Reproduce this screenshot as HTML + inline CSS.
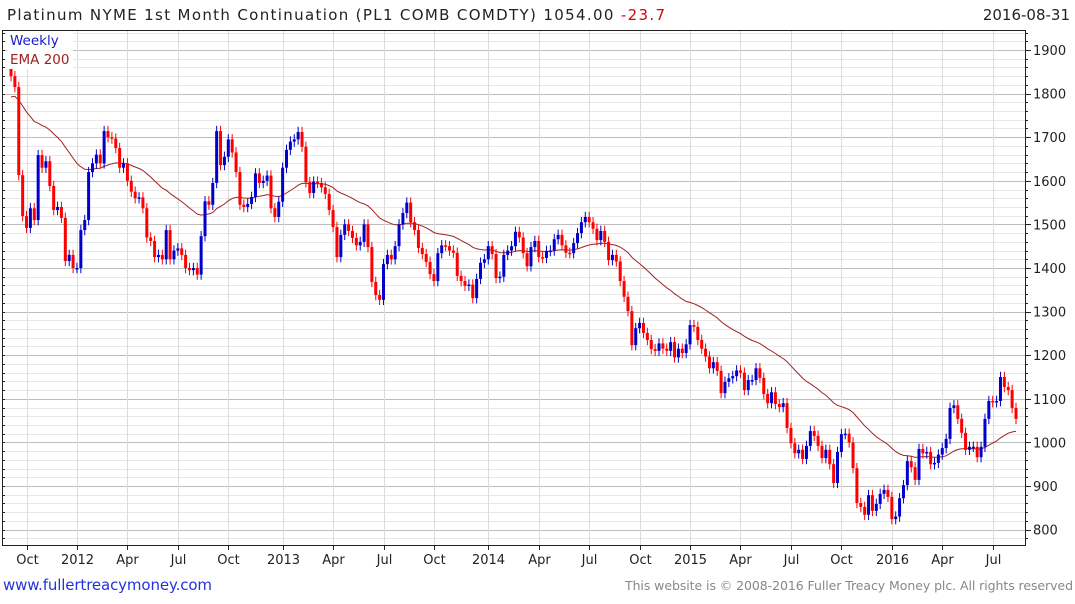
<!DOCTYPE html>
<html><head><meta charset="utf-8"><style>
body{margin:0;background:#fff;width:1075px;height:600px;overflow:hidden;font-family:"DejaVu Sans",sans-serif}
</style></head><body>
<svg id="chart" width="1075" height="600" xmlns="http://www.w3.org/2000/svg" font-family="DejaVu Sans, Liberation Sans, sans-serif">
<text x="7" y="20" font-size="15" fill="#222" textLength="658" lengthAdjust="spacing">Platinum NYME 1st Month Continuation (PL1 COMB COMDTY) 1054.00 <tspan fill="#e00000">-23.7</tspan></text>
<text x="1070" y="20" font-size="15" fill="#222" text-anchor="end">2016-08-31</text>
<g id="grid"></g><g id="ema"></g><g id="bars"></g><g id="axes"></g>
<rect x="7" y="31" width="66" height="38" fill="#fff"/>
<text x="10" y="45" font-size="13.5" fill="#1a1acc">Weekly</text>
<text x="10" y="64" font-size="13.5" fill="#a02020">EMA 200</text>
<text x="3" y="590" font-size="15" fill="#2233dd" textLength="209">www.fullertreacymoney.com</text>
<text x="1073" y="590" font-size="12.5" fill="#888" text-anchor="end" textLength="448">This website is © 2008-2016 Fuller Treacy Money plc. All rights reserved</text>
</svg>
<script>
const closes=[1840,1815,1613,1519,1492,1537,1510,1659,1630,1645,1588,1533,1540,1515,1416,1430,1400,1400,1487,1510,1620,1640,1660,1640,1714,1700,1697,1675,1630,1640,1600,1575,1560,1562,1537,1470,1462,1425,1430,1420,1487,1420,1440,1445,1430,1400,1395,1400,1385,1473,1553,1545,1595,1714,1636,1655,1695,1665,1620,1545,1540,1547,1563,1617,1595,
1600,1612,1537,1517,1552,1630,1671,1690,1695,1712,1678,1597,1572,1598,1595,1585,1570,1533,1494,1425,1476,1500,1485,1469,1452,1460,1500,1448,1368,1338,1327,1409,1430,1420,1450,1500,1526,1550,1505,1487,1446,1432,1414,1386,1370,1434,1452,1450,1440,1435,1382,1370,1359,1362,1331,1375,1412,1420,1450,1432,1377,1380,1430,1440,1450,
1483,1470,1434,1404,1448,1462,1425,1423,1439,1440,1466,1476,1452,1435,1434,1457,1480,1505,1517,1505,1490,1464,1485,1460,1418,1430,1415,1370,1334,1301,1223,1262,1274,1251,1235,1214,1210,1227,1215,1210,1230,1195,1215,1205,1225,1269,1265,1235,1215,1197,1170,1184,1164,1113,1139,1147,1152,1165,1160,1120,1143,1143,1170,1148,
1111,1090,1115,1088,1081,1090,1033,998,975,983,962,992,1026,1015,992,964,983,950,907,978,1019,1020,1000,941,861,852,834,879,843,859,882,891,875,824,830,872,902,957,943,914,985,975,978,950,953,972,987,1008,1079,1085,1054,1022,983,990,990,966,990,1054,1095,1092,1095,1150,1127,1120,1079,1054];
const firstOpen=1858;
const emaSeed=1790;
const yTicks=[800,900,1000,1100,1200,1300,1400,1500,1600,1700,1800,1900];
const xTickLabels=["Oct","2012","Apr","Jul","Oct","2013","Apr","Jul","Oct","2014","Apr","Jul","Oct","2015","Apr","Jul","Oct","2016","Apr","Jul"];
const xTickWeeks=[4,17,30,43,56,70,83,96,109,123,136,149,162,175,188,201,214,227,240,253];
const NS="http://www.w3.org/2000/svg";
const L=2,R=1025,T=30,B=545;
const x=i=>11+i*(1016-11)/(closes.length-1);
const y=v=>50+(1900-v)*0.436;
function mk(tag,attrs,parent){const e=document.createElementNS(NS,tag);for(const k in attrs)e.setAttribute(k,attrs[k]);parent.appendChild(e);return e;}
const grid=document.getElementById('grid'),axes=document.getElementById('axes'),bars=document.getElementById('bars'),emaG=document.getElementById('ema');
for(let v=780;v<=1940;v+=20){const yy=Math.round(y(v))+0.5;if(yy<T||yy>B)continue;const major=v%100===0;
 const ln=mk('line',{x1:L,x2:R,y1:yy,y2:yy,stroke:major?'#bdbdbd':'#e8e8e8','stroke-width':1},grid);
 
 
 const tk=mk('line',{x1:R,x2:R+(major?6:3),y1:yy,y2:yy,stroke:'#222'},axes);
 
 
 const tl=mk('line',{x1:L,x2:L+3,y1:yy,y2:yy,stroke:'#222'},axes);
 
 }
yTicks.forEach(v=>{const t=mk('text',{x:1033,y:y(v)+5,'font-size':13,fill:'#222'},axes);t.textContent=v;
 
 });
xTickWeeks.forEach((w,k)=>{const xx=Math.round(x(w))+0.5;
 const ln=mk('line',{x1:xx,x2:xx,y1:T,y2:B,stroke:'#dcdcdc'},grid);
 
 
 const tk=mk('line',{x1:xx,x2:xx,y1:B,y2:B+5,stroke:'#222'},axes);
 
 
 const t=mk('text',{x:xx,y:564,'font-size':13,fill:'#222','text-anchor':'middle'},axes);t.textContent=xTickLabels[k];
 
 });
const frame=mk('rect',{x:L+0.5,y:T+0.5,width:R-L,height:B-T,fill:'none',stroke:'#222'},axes);


let prev=firstOpen,ema=emaSeed,pts=[];
closes.forEach((c,i)=>{const o=prev;const up=c>=o;const col=up?'#0000cc':'#ff0000';
 const hi=Math.max(o,c)+12,lo=Math.min(o,c)-12;const xx=x(i);
 const w=mk('line',{x1:xx,x2:xx,y1:y(hi),y2:y(lo),stroke:col,'stroke-width':1},bars);
 
 
 const top=y(Math.max(o,c)),h=Math.max(1.5,y(Math.min(o,c))-top);
 const r=mk('rect',{x:xx-1.5,y:top,width:3,height:h,fill:col},bars);
 
 
 ema=ema+(c-ema)*2/41;pts.push(xx.toFixed(1)+','+y(ema).toFixed(1));prev=c;});
const pl=mk('polyline',{points:pts.join(' '),fill:'none',stroke:'#a02020','stroke-width':1},emaG);


</script>
</body></html>
